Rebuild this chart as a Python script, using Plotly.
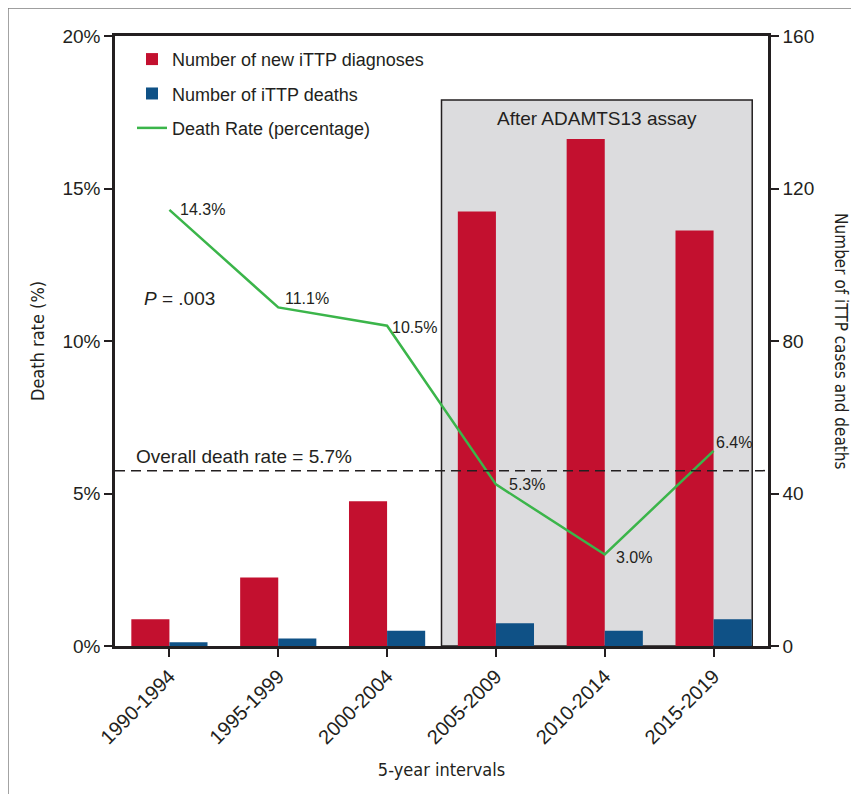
import plotly.graph_objects as go

categories = ["1990-1994", "1995-1999", "2000-2004", "2005-2009", "2010-2014", "2015-2019"]
new_diagnoses = [7, 18, 38, 114, 133, 109]
deaths = [1, 2, 4, 6, 4, 7]
death_rate = [14.3, 11.1, 10.5, 5.3, 3.0, 6.4]
rate_labels = ["14.3%", "11.1%", "10.5%", "5.3%", "3.0%", "6.4%"]
overall_rate = 5.75
left_ticks = [0, 5, 10, 15, 20]
left_ticklabels = ["0%", "5%", "10%", "15%", "20%"]
right_ticks = [0, 40, 80, 120, 160]

RED = "#c3102f"
BLUE = "#0f5186"
GREEN = "#3bb54a"
FONT = "Liberation Sans, Arial, sans-serif"
NARROW = "Liberation Sans Narrow, DejaVu Sans Condensed, Liberation Sans, Arial, sans-serif"
TXT = "#231f20"

fig = go.Figure()
fig.add_trace(go.Bar(x=categories, y=new_diagnoses, name="Number of new iTTP diagnoses",
                     marker=dict(color=RED, line=dict(width=0)), yaxis="y", legendgroup="a"))
fig.add_trace(go.Bar(x=categories, y=deaths, name="Number of iTTP deaths",
                     marker=dict(color=BLUE, line=dict(width=0)), yaxis="y", legendgroup="b"))
fig.add_trace(go.Scatter(x=categories, y=death_rate, name="Death Rate (percentage)",
                         mode="lines", line=dict(color=GREEN, width=2.5), yaxis="y2", legendgroup="c"))

# shaded "After ADAMTS13 assay" region
fig.add_shape(type="rect", xref="x", yref="y2", x0=2.5, x1=5.355, y0=0, y1=17.9,
              fillcolor="#dcdcde", line=dict(color=TXT, width=1.5), layer="below")
fig.add_annotation(xref="x", yref="y2", x=3.93, y=17.9, yshift=-18, text="After ADAMTS13 assay",
                   showarrow=False, font=dict(family=FONT, size=19, color=TXT))

# overall rate dashed line
fig.add_shape(type="line", xref="paper", yref="y2", x0=0, x1=1.0, y0=overall_rate, y1=overall_rate,
              line=dict(color=TXT, width=1.5, dash="10px,6px"), layer="above")
fig.add_annotation(xref="paper", yref="y2", x=0.029, y=overall_rate, yshift=14, xanchor="left",
                   text="Overall death rate = 5.7%", showarrow=False,
                   font=dict(family=FONT, size=19, color=TXT))

# P value
fig.add_annotation(xref="paper", yref="y2", x=0.042, y=11.41, xanchor="left",
                   text="<i>P</i> = .003", showarrow=False,
                   font=dict(family=FONT, size=19, color=TXT))

# rate labels
offsets = [(9, 0), (5, 9), (3, -2), (11, 0), (9, -3), (0, 8)]
for c, v, lab, (dx, dy) in zip(categories, death_rate, rate_labels, offsets):
    fig.add_annotation(x=c, y=v, yref="y2", text=lab, showarrow=False, xanchor="left",
                       xshift=dx, yshift=dy, font=dict(family=FONT, size=16, color=TXT))

# right axis title rotated reading top-to-bottom
fig.add_annotation(xref="paper", yref="paper", x=1.13, y=0.5, text="Number of iTTP cases and deaths",
                   textangle=90, showarrow=False, font=dict(family=NARROW, size=17, color=TXT))

# outer frame
fig.add_shape(type="rect", xref="paper", yref="paper", x0=-0.1639, x1=1.4, y0=-0.4, y1=1.0459,
              line=dict(color="#808080", width=1.5), fillcolor="rgba(0,0,0,0)")

fig.update_layout(
    width=859, height=794,
    margin=dict(l=107, r=99, t=28, b=156),
    paper_bgcolor="white", plot_bgcolor="white",
    barmode="group", bargap=0.3, bargroupgap=0,
    font=dict(family=FONT, size=17, color=TXT),
    showlegend=True,
    legend=dict(x=0.026, y=0.992, xanchor="left", yanchor="top", bgcolor="rgba(0,0,0,0)",
                font=dict(family=FONT, size=18, color=TXT), tracegroupgap=8,
                traceorder="grouped"),
    xaxis=dict(type="category", tickangle=-45, ticks="outside", ticklen=8, tickwidth=2,
               tickcolor=TXT, showline=True, linecolor=TXT, linewidth=2.5, mirror=True,
               tickfont=dict(family=FONT, size=20, color=TXT),
               title=dict(text="5-year intervals", font=dict(family=NARROW, size=18, color=TXT), standoff=17),
               range=[-0.5, 5.5]),
    yaxis=dict(range=[0, 160], tickvals=right_ticks, side="right", ticks="outside",
               ticklen=8, tickwidth=1.5, tickcolor=TXT, showline=True, linecolor=TXT, linewidth=2.5,
               showgrid=False, zeroline=False,
               tickfont=dict(family=FONT, size=19, color=TXT)),
    yaxis2=dict(range=[0, 20], tickvals=left_ticks, ticktext=left_ticklabels, overlaying="y", side="left",
                ticks="outside", ticklen=8, tickwidth=1.5, tickcolor=TXT, showline=True, linecolor=TXT,
                linewidth=2.5, showgrid=False, zeroline=False,
                tickfont=dict(family=FONT, size=19, color=TXT),
                title=dict(text="Death rate (%)", font=dict(family=NARROW, size=18, color=TXT), standoff=14)),
)

fig.write_html("out.html")
